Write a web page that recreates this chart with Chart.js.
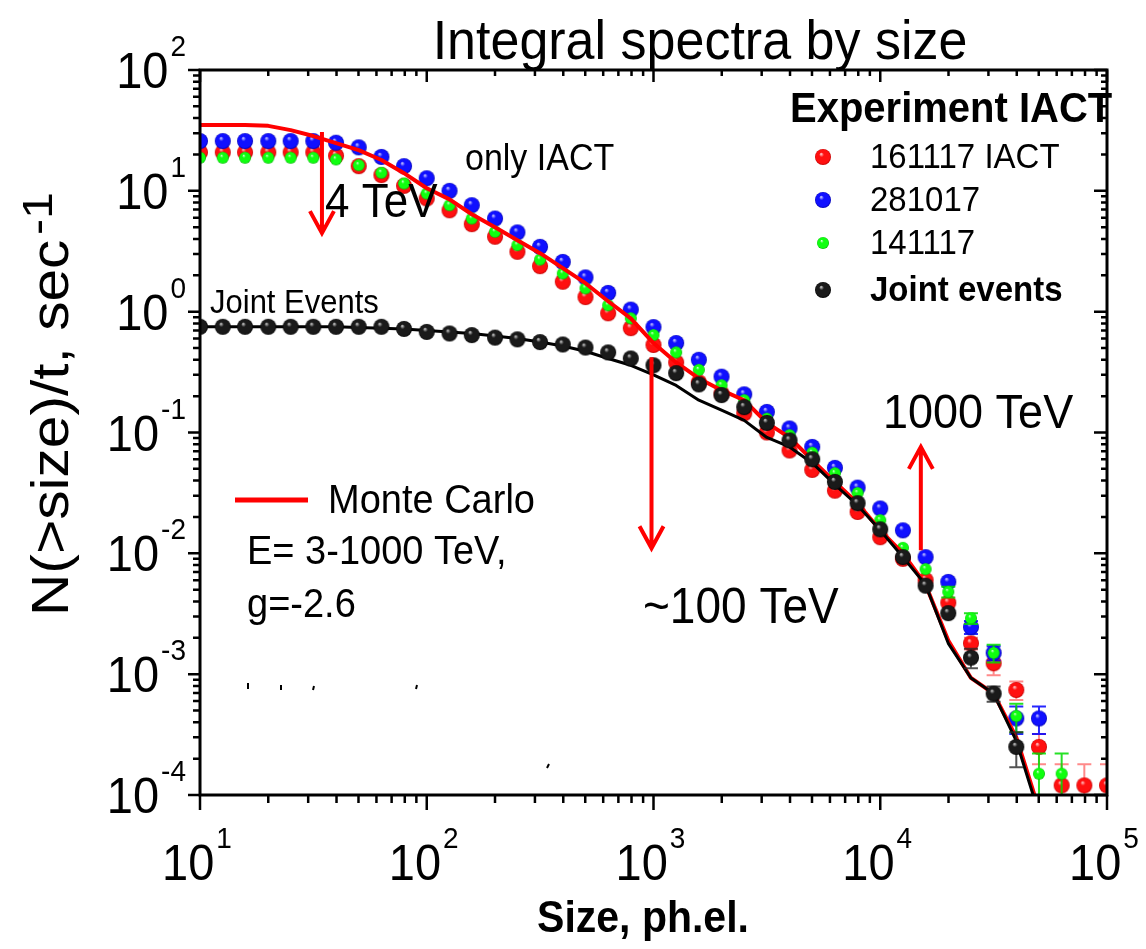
<!DOCTYPE html>
<html>
<head>
<meta charset="utf-8">
<title>Integral spectra by size</title>
<script src="https://cdn.jsdelivr.net/npm/chart.js@4.4.0/dist/chart.umd.min.js"></script>
<style>
  html, body { margin: 0; padding: 0; background: #fff; }
  #wrap { width: 1146px; height: 949px; position: relative; }
</style>
</head>
<body>
<div id="wrap"><canvas id="spectra"></canvas></div>
<script>
// Size thresholds (ph.el.), 10 points per decade
const sizes = [10, 12.6, 15.8, 20, 25.1, 31.6, 39.8, 50.1, 63.1, 79.4,
  100, 126, 158, 200, 251, 316, 398, 501, 631, 794,
  1000, 1259, 1585, 1995, 2512, 3162, 3981, 5012, 6310, 7943,
  10000, 12589, 15849, 19953, 25119, 31623, 39811, 50119, 63096, 79433, 100000];

// N(>size)/t, sec^-1 for each run
const rate161117 = [20.8, 20.8, 20.8, 20.8, 20.8, 20.8, 19.5, 16, 13.5, 11,
  8.65, 6.9, 5.3, 4.17, 3.13, 2.38, 1.77, 1.32, 0.97, 0.73,
  0.53, 0.38, 0.26, 0.21, 0.144, 0.10, 0.071, 0.049, 0.033, 0.022,
  0.0136, 0.009, 0.006, 0.0039, 0.0018, 0.00123, 0.00074, 0.00025, 0.00012, 0.00012, 0.00012];
const rate281017 = [25.8, 25.8, 25.8, 25.8, 25.8, 25.8, 25, 22.9, 19.1, 16,
  12.7, 10, 7.6, 5.9, 4.53, 3.44, 2.58, 1.92, 1.43, 1.04,
  0.745, 0.55, 0.40, 0.29, 0.207, 0.148, 0.108, 0.076, 0.051, 0.035,
  0.0235, 0.0155, 0.0093, 0.0058, 0.00245, 0.0015, 0.00043, 0.00043, null, null, null];
const rate141117 = [18.8, 18.8, 18.8, 18.8, 18.8, 18.8, 18.2, 16.3, 14.1, 11.5,
  9.5, 7.6, 5.9, 4.58, 3.55, 2.7, 2.07, 1.56, 1.13, 0.88,
  0.64, 0.46, 0.33, 0.246, 0.185, 0.13, 0.095, 0.068, 0.046, 0.0315,
  0.0188, 0.0111, 0.0074, 0.0048, 0.0029, 0.0015, 0.00045, 0.00015, 0.00015, null, null];
const rateJoint = [0.75, 0.75, 0.75, 0.75, 0.75, 0.75, 0.75, 0.75, 0.75, 0.72,
  0.68, 0.66, 0.64, 0.61, 0.59, 0.56, 0.535, 0.505, 0.46, 0.41,
  0.36, 0.31, 0.25, 0.204, 0.162, 0.12, 0.086, 0.06, 0.039, 0.026,
  0.0158, 0.0093, 0.0054, 0.0032, 0.00137, 0.00069, 0.00025, null, null, null, null];

// Monte Carlo curves
const mcAll = [35, 35, 35, 34.5, 31.8, 28.4, 24.8, 21.7, 18, 14,
  10.5, 8.5, 6.4, 5.0, 3.9, 3.05, 2.29, 1.72, 1.22, 0.88,
  0.55, 0.38, 0.28, 0.224, 0.185, 0.12, 0.091, 0.059, 0.039, 0.026,
  0.0155, 0.01, 0.0055, 0.0019, 0.00093, 0.00069, 0.0003, 0.000076, null, null, null];
const mcJoint = [0.75, 0.75, 0.75, 0.75, 0.75, 0.75, 0.75, 0.74, 0.73, 0.72,
  0.70, 0.68, 0.66, 0.63, 0.60, 0.56, 0.52, 0.47, 0.41, 0.36,
  0.30, 0.245, 0.185, 0.153, 0.126, 0.091, 0.076, 0.056, 0.037, 0.025,
  0.0155, 0.0093, 0.0055, 0.0018, 0.00093, 0.00069, 0.00028, 0.00007, null, null, null];

// error bars, by index into sizes (only the tail shows them)
const err161117 = { 34: 0.0002, 35: 0.00025, 36: 0.00013, 37: 0.00007, 38: 0.00006, 39: 0.00006, 40: 0.00006 };
const err281017 = { 34: 0.0003, 35: 0.0002, 36: 0.00011, 37: 0.00011 };
const err141117 = { 33: 0.0005, 34: 0.0003, 35: 0.00025, 36: 0.00012, 37: 0.00007, 38: 0.00007 };
const errJoint = { 34: 0.00025, 35: 0.0001, 36: 0.00008 };

// axis decades (tick labels are 10^n)
const xDecades = [1, 2, 3, 4, 5];
const yDecades = [2, 1, 0, -1, -2, -3, -4];

// legend entries
const legendLabels = ['161117 IACT', '281017', '141117', 'Joint events'];

const FONT = '"Liberation Sans", Arial, sans-serif';
const STRETCH = 1.08; // the original text is slightly taller than wide

function toPoints(values, errs = {}) {
    return sizes.map((x, i) => ({ x, y: values[i], err: errs[i] })).filter(p => p.y != null);
}

// shaded ball marker, like the original plot
function sphere(light, main, dark, r) {
    const c = document.createElement('canvas');
    const s = Math.ceil(2 * r + 2);
    c.width = c.height = s;
    const g = c.getContext('2d');
    const cx = s / 2, cy = s / 2;
    const grad = g.createRadialGradient(cx - r * 0.25, cy - r * 0.4, 0, cx, cy, r);
    grad.addColorStop(0, light);
    grad.addColorStop(0.3, main);
    grad.addColorStop(0.85, main);
    grad.addColorStop(1, dark);
    g.beginPath();
    g.arc(cx, cy, r, 0, Math.PI * 2);
    g.fillStyle = grad;
    g.fill();
    return c;
}

const balls = {
    red: sphere('#ffe0e0', '#ff1010', '#c00000', 8),
    blue: sphere('#e0e0ff', '#1010ff', '#0000b0', 8),
    green: sphere('#e8ffe8', '#10ff10', '#00b000', 6),
    black: sphere('#e0e0e0', '#1a1a1a', '#000000', 8)
};

function drawText(ctx, str, x, y, size, opts = {}) {
    ctx.save();
    ctx.translate(x, y);
    ctx.scale(1, STRETCH);
    ctx.font = (opts.bold ? 'bold ' : '') + size + 'px ' + FONT;
    ctx.fillStyle = opts.color || '#000';
    ctx.textAlign = opts.align || 'left';
    ctx.textBaseline = 'alphabetic';
    ctx.fillText(str, 0, 0);
    ctx.restore();
}

// "10" with a raised exponent; y is the baseline of "10"
function powerLabel(ctx, exp, x, y, align) {
    const sup = String(exp);
    ctx.font = '47px ' + FONT;
    const wb = ctx.measureText('10').width;
    ctx.font = '28px ' + FONT;
    const ws = ctx.measureText(sup).width;
    const total = wb + 2 + ws;
    const x0 = align === 'center' ? x - total / 2 : x - total;
    drawText(ctx, '10', x0, y, 47);
    drawText(ctx, sup, x0 + wb + 2, y - 32, 28);
}

function arrow(ctx, x, y0, y1) {
    const dir = Math.sign(y1 - y0);
    ctx.beginPath();
    ctx.moveTo(x, y0);
    ctx.lineTo(x, y1);
    ctx.moveTo(x - 12, y1 - dir * 22);
    ctx.lineTo(x, y1);
    ctx.lineTo(x + 12, y1 - dir * 22);
    ctx.stroke();
}

// clips every dataset to the frame and draws its error bars underneath the balls
const errorBars = {
    id: 'errorBars',
    beforeDatasetDraw(chart, args) {
        const ds = chart.data.datasets[args.index];
        const { ctx, chartArea: a, scales: { x, y } } = chart;
        ctx.save();
        ctx.beginPath();
        ctx.rect(a.left, a.top, a.right - a.left, a.bottom - a.top);
        ctx.clip();
        if (!ds.errorColor) return;
        ctx.strokeStyle = ds.errorColor;
        ctx.lineWidth = 2;
        ds.data.forEach(p => {
            if (!p.err) return;
            const px = x.getPixelForValue(p.x);
            const top = y.getPixelForValue(p.y + p.err);
            const low = p.y - p.err > 0 ? y.getPixelForValue(p.y - p.err) : a.bottom + 5;
            ctx.beginPath();
            ctx.moveTo(px, top); ctx.lineTo(px, low);
            ctx.moveTo(px - 7, top); ctx.lineTo(px + 7, top);
            ctx.moveTo(px - 7, low); ctx.lineTo(px + 7, low);
            ctx.stroke();
        });
    },
    afterDatasetDraw(chart) {
        chart.ctx.restore();
    }
};

const annotations = {
    id: 'annotations',
    afterDatasetsDraw(chart) {
        const { ctx, scales: { x, y } } = chart;
        ctx.save();

        drawText(ctx, 'Integral spectra by size', 700, 59, 52, { align: 'center' });
        drawText(ctx, 'only IACT', 465, 170, 34);
        drawText(ctx, '4 TeV', 325, 217, 44);
        drawText(ctx, 'Joint Events', 210, 313, 31);
        drawText(ctx, '1000 TeV', 883, 428, 45);
        drawText(ctx, '~100 TeV', 643, 623, 46);

        // Monte Carlo key
        ctx.strokeStyle = '#ff0000';
        ctx.lineWidth = 5;
        ctx.beginPath();
        ctx.moveTo(235, 500); ctx.lineTo(308, 500);
        ctx.stroke();
        drawText(ctx, 'Monte Carlo', 328, 513, 38);
        drawText(ctx, 'E= 3-1000 TeV,', 247, 564, 38);
        drawText(ctx, 'g=-2.6', 247, 617, 38);

        // energy markers, placed in data coordinates
        ctx.strokeStyle = '#ff0000';
        ctx.lineWidth = 4;
        arrow(ctx, x.getPixelForValue(34.5), y.getPixelForValue(30.7), y.getPixelForValue(4.47));
        arrow(ctx, x.getPixelForValue(980), y.getPixelForValue(0.42), y.getPixelForValue(0.011));
        arrow(ctx, x.getPixelForValue(15100), y.getPixelForValue(0.0106), y.getPixelForValue(0.076));

        // stray specks of the original
        ctx.strokeStyle = '#000';
        ctx.lineWidth = 2;
        ctx.beginPath();
        ctx.moveTo(248, 683); ctx.lineTo(248, 689);
        ctx.moveTo(281, 685); ctx.lineTo(281, 690);
        ctx.moveTo(314, 686); ctx.lineTo(313, 690);
        ctx.moveTo(417, 685); ctx.lineTo(416, 689);
        ctx.moveTo(549, 764); ctx.lineTo(547, 768);
        ctx.stroke();

        // experiment legend
        drawText(ctx, 'Experiment IACT', 790, 122, 40, { bold: true });
        const keys = [balls.red, balls.blue, balls.green, balls.black];
        const rows = [157, 200, 243, 290];
        legendLabels.forEach((lab, i) => {
            const img = keys[i];
            ctx.drawImage(img, 823 - img.width / 2, rows[i] - img.height / 2);
            drawText(ctx, lab, 870, rows[i] + 11, 33, { bold: i === 3 });
        });

        ctx.restore();
    }
};

const frame = {
    id: 'frame',
    afterDraw(chart) {
        const { ctx, chartArea: a, scales: { x, y } } = chart;
        ctx.save();
        ctx.strokeStyle = '#000';
        ctx.lineWidth = 2.5;
        ctx.beginPath();
        xDecades.forEach(n => {
            for (let m = 1; m <= 9; m++) {
                const v = m * Math.pow(10, n - 1);
                if (v < 10) continue;
                const px = x.getPixelForValue(v);
                const major = m === 1;
                ctx.moveTo(px, a.bottom); ctx.lineTo(px, a.bottom + (major ? 15 : 8));
                ctx.moveTo(px, a.top); ctx.lineTo(px, a.top + (major ? 12 : 6));
            }
        });
        ctx.moveTo(a.right, a.bottom); ctx.lineTo(a.right, a.bottom + 15);
        ctx.moveTo(a.right, a.top); ctx.lineTo(a.right, a.top + 12);
        yDecades.forEach(n => {
            for (let m = 1; m <= 9; m++) {
                const v = m * Math.pow(10, n);
                if (v > 100) continue;
                const py = y.getPixelForValue(v);
                const major = m === 1;
                ctx.moveTo(a.left, py); ctx.lineTo(a.left - (major ? 12 : 7), py);
                ctx.moveTo(a.right, py); ctx.lineTo(a.right - (major ? 13 : 6), py);
            }
        });
        ctx.stroke();

        ctx.lineWidth = 3;
        ctx.strokeRect(a.left, a.top, a.right - a.left, a.bottom - a.top);

        xDecades.forEach(n => powerLabel(ctx, n, x.getPixelForValue(Math.pow(10, n)) - 3, 880, 'center'));
        yDecades.forEach(n => powerLabel(ctx, n, 186, y.getPixelForValue(Math.pow(10, n)) + 18, 'right'));

        drawText(ctx, 'Size, ph.el.', 643, 932, 41, { bold: true, align: 'center' });

        // rotated y title with superscript
        ctx.save();
        ctx.translate(68, 616);
        ctx.scale(1, 1.15);
        ctx.rotate(-Math.PI / 2);
        ctx.fillStyle = '#000';
        ctx.textBaseline = 'alphabetic';
        ctx.font = '51px ' + FONT;
        const main = 'N(>size)/t, sec';
        ctx.fillText(main, 0, 0);
        const w = ctx.measureText(main).width;
        ctx.font = '42px ' + FONT;
        ctx.fillText('-1', w + 4, -16);
        ctx.restore();

        ctx.restore();
    }
};

const ctx = document.getElementById('spectra');
new Chart(ctx, {
    type: 'line',
    data: {
        datasets: [
            { label: 'Joint events', data: toPoints(rateJoint, errJoint), showLine: false,
              pointStyle: balls.black, pointRadius: 8, errorColor: 'rgba(40,40,40,0.8)', order: 0, clip: 0 },
            { label: 'MC joint', data: toPoints(mcJoint), borderColor: '#000', borderWidth: 3,
              pointRadius: 0, order: 1, clip: 0 },
            { label: 'Monte Carlo', data: toPoints(mcAll), borderColor: '#ff0000', borderWidth: 4,
              pointRadius: 0, order: 2, clip: 0 },
            { label: '141117', data: toPoints(rate141117, err141117), showLine: false,
              pointStyle: balls.green, pointRadius: 6, errorColor: 'rgba(0,220,0,0.85)', order: 3, clip: 0 },
            { label: '281017', data: toPoints(rate281017, err281017), showLine: false,
              pointStyle: balls.blue, pointRadius: 8, errorColor: 'rgba(0,0,255,0.85)', order: 4, clip: 0 },
            { label: '161117 IACT', data: toPoints(rate161117, err161117), showLine: false,
              pointStyle: balls.red, pointRadius: 8, errorColor: 'rgba(255,60,60,0.6)', order: 5, clip: 0 }
        ]
    },
    options: {
        responsive: true,
        maintainAspectRatio: false,
        animation: false,
        events: [],
        layout: { padding: { top: 70, right: 39, left: 0, bottom: 0 } },
        elements: { line: { tension: 0, borderJoinStyle: 'round' } },
        plugins: { legend: { display: false }, tooltip: { enabled: false } },
        scales: {
            x: {
                type: 'logarithmic', min: 10, max: 100000,
                grid: { display: false }, border: { display: false },
                ticks: { display: false },
                afterFit: (scale) => { scale.height = 154; }
            },
            y: {
                type: 'logarithmic', min: 0.0001, max: 100,
                grid: { display: false }, border: { display: false },
                ticks: { display: false },
                afterFit: (scale) => { scale.width = 200; }
            }
        }
    },
    plugins: [errorBars, annotations, frame]
});
</script>
</body>
</html>
